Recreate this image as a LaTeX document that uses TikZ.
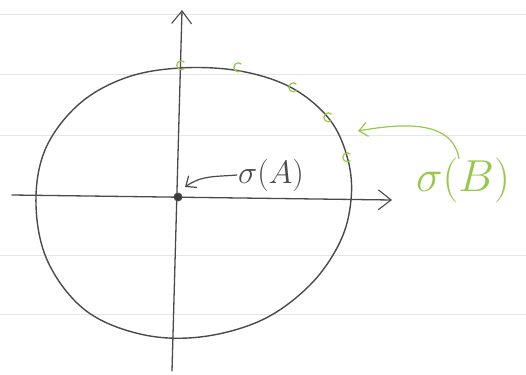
\documentclass[tikz,border=0pt]{standalone}
\usepackage{graphicx}
\usepackage{tikz}
\usetikzlibrary{positioning, arrows.meta, calc}
\definecolor{pencil}{HTML}{4A4A4A}
\definecolor{rule}{HTML}{E6E6E6}
\definecolor{marker}{HTML}{96C94A}
\newcommand{\bigmath}[2]{\scalebox{#1}{$#2$}}

\begin{document}
\begin{tikzpicture}[
    x=1pt, y=-1pt,
    axis/.style={draw=pencil, line width=1.3pt, line cap=round,
        -{Straight Barb[length=4.5mm, width=7mm, line width=1.1pt]}},
    curve/.style={draw=pencil, line width=1.4pt},
    ruled/.style={draw=rule, line width=0.8pt},
    hand/.style={text=#1, inner sep=1pt, font=\fontsize{24.88}{26}\selectfont},
    pointer/.style={draw=#1, line width=1.2pt, line cap=round,
        -{Straight Barb[length=3mm, width=5mm, line width=1.2pt]}},
    tick/.style={draw=marker, line width=1.2pt},
  ]
  \useasboundingbox (0,0) rectangle (526,374);
  \fill[white] (0,0) rectangle (526,374);
  % ruled paper
  \foreach \ry in {14,74,135,255,314}
    \draw[ruled] (0,\ry) -- (526,\ry);
  % axes
  \coordinate (xleft) at (12,195);
  \coordinate (xright) at (392,200);
  \coordinate (ybottom) at (172,371);
  \coordinate (ytop) at (182,10);
  \draw[axis] (xleft) -- (xright);
  \draw[axis] (ybottom) -- (ytop);
  % the oval
  \draw[curve] plot[smooth cycle, tension=0.6] coordinates {
    (180,68) (240,71) (292,88) (330,120) (348,160) (351,200)
    (340,242) (310,285) (262,320) (200,337) (140,334) (85,310)
    (48,262) (36,205) (45,150) (78,105) (125,78)};
  % green marks along the oval
  \foreach \mx/\my in {181/72, 238/74, 293/94, 328/124, 347/164}
    \draw[tick] (\mx+3.5,\my-3.5) arc[start angle=45, end angle=315, radius=4.5];
  % sigma(A)
  \node[circle, fill=pencil!80!black, draw=pencil, line width=0.8pt,
    minimum size=8pt, inner sep=0pt] (origin) at (178,197) {};
  \node[hand=pencil] (sigmaA) at (271,175) {\bigmath{1.3}{\sigma(A)}};
  \draw[pointer=pencil] (sigmaA.west) to[out=185, in=35] ($(origin)+(7,-10)$);
  % sigma(B)
  \node[hand=marker] (sigmaB) at (463,180) {\bigmath{1.8}{\sigma(B)}};
  \coordinate (bmark) at (358,131);
  \draw[pointer=marker] ($(sigmaB.north)+(-4,2)$) to[out=100, in=10] (bmark);
\end{tikzpicture}
\end{document}
